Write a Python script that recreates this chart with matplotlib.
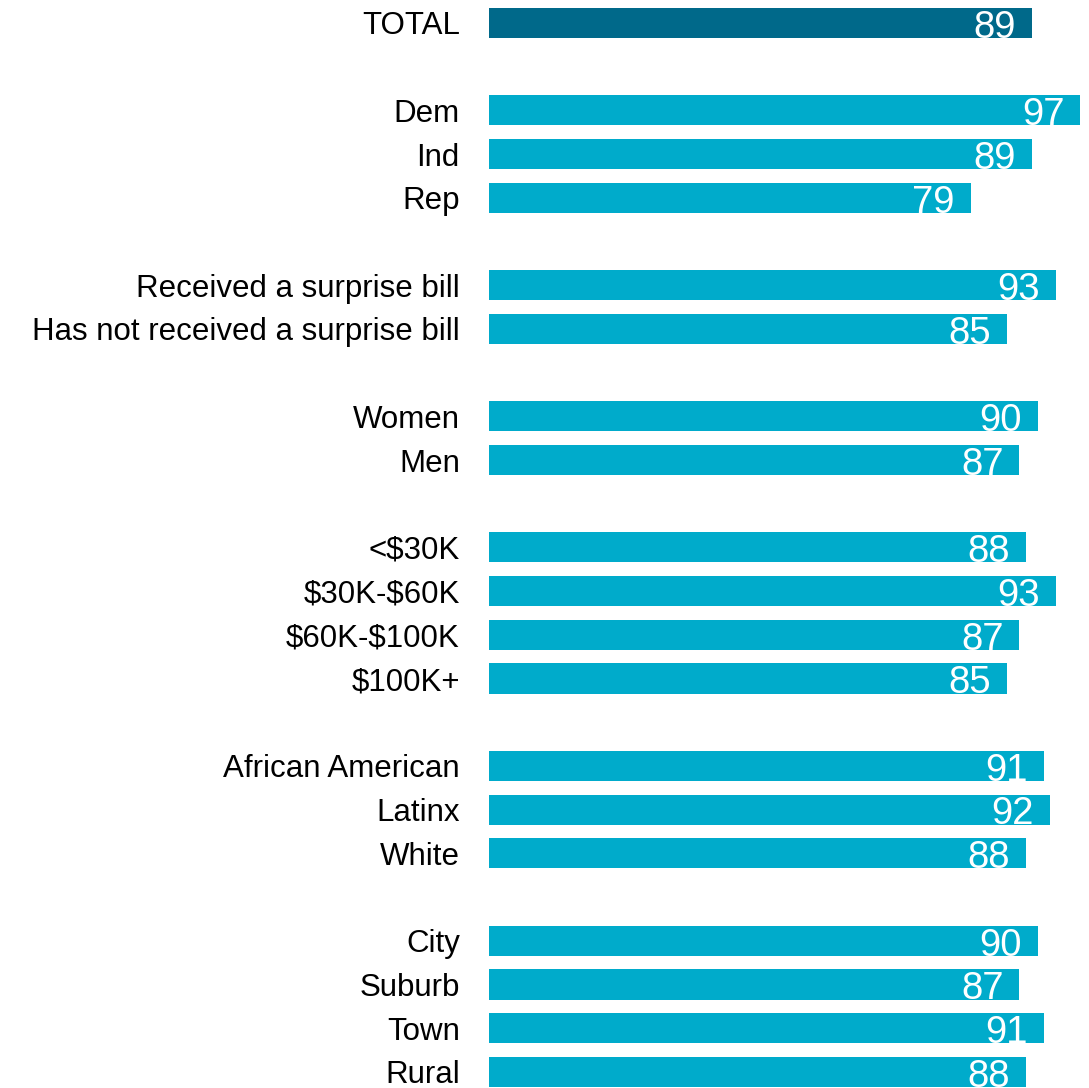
import matplotlib.pyplot as plt

plt.rcParams['font.family'] = ['Liberation Sans', 'DejaVu Sans']
plt.rcParams['text.parse_math'] = False

# rows top to bottom, None marks a blank spacer row
labels = ['TOTAL', None,
          'Dem', 'Ind', 'Rep', None,
          'Received a surprise bill', 'Has not received a surprise bill', None,
          'Women', 'Men', None,
          '<$30K', '$30K-$60K', '$60K-$100K', '$100K+', None,
          'African American', 'Latinx', 'White', None,
          'City', 'Suburb', 'Town', 'Rural']
values = [89, None,
          97, 89, 79, None,
          93, 85, None,
          90, 87, None,
          88, 93, 87, 85, None,
          91, 92, 88, None,
          90, 87, 91, 88]

dark = '#00698A'
light = '#00ABCB'

fig = plt.figure(figsize=(10.89, 10.88), dpi=100)
ax = fig.add_axes([0.449, 0.0, 0.551, 1.0])

ypos, names, vals, cols = [], [], [], []
for i, (lab, v) in enumerate(zip(labels, values)):
    if lab is None:
        continue
    ypos.append(i)
    names.append(lab)
    vals.append(v)
    cols.append(dark if lab == 'TOTAL' else light)

ax.barh(ypos, vals, height=0.69, color=cols)

for y, v in zip(ypos, vals):
    ax.annotate(str(v), xy=(v, y), xytext=(-11.5, -3.5), textcoords='offset points',
                ha='right', va='center', color='white', fontsize=27.5)

ax.set_xlim(0, 98.4)
ax.set_ylim(24.37, -0.526)
ax.set_yticks(ypos)
ax.set_yticklabels(names, fontsize=22.5)
ax.tick_params(axis='y', length=0, pad=21)
ax.set_xticks([])
for s in ax.spines.values():
    s.set_visible(False)

fig.savefig('out.png', dpi=100)
